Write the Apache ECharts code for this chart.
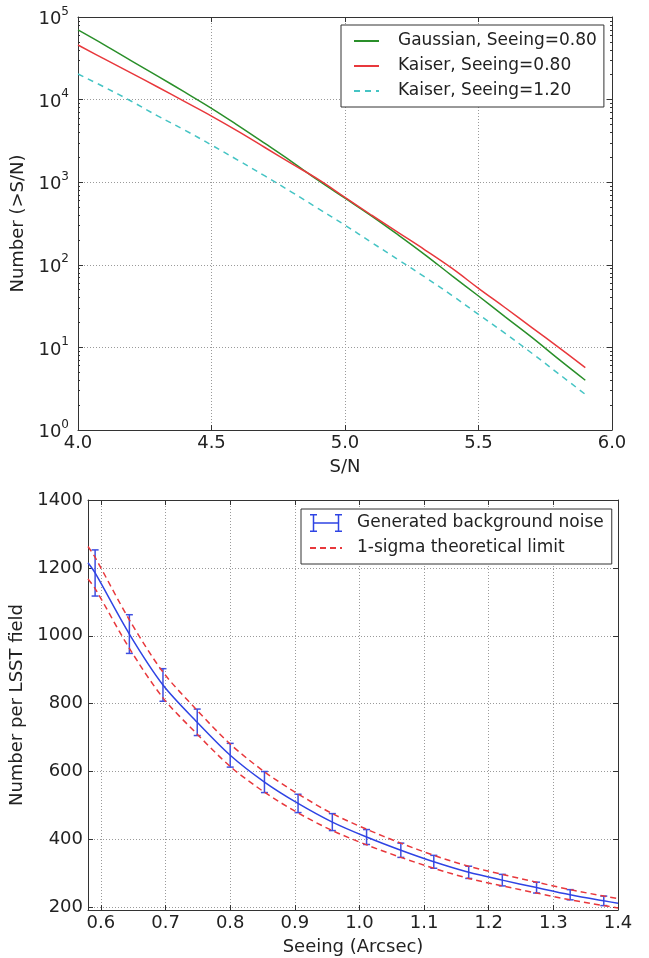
<!DOCTYPE html>
<html>
<head>
<meta charset="utf-8">
<script src="https://cdn.jsdelivr.net/npm/echarts@6/dist/echarts.min.js"></script>
<style>
  html, body { margin: 0; padding: 0; background: #fff; }
  #chart { width: 649px; height: 958px; }
</style>
</head>
<body>
<div id="chart"></div>
<script>
  // top panel: cumulative counts vs S/N
  var snr = [4.0, 4.1, 4.2, 4.3, 4.4, 4.5, 4.6, 4.7, 4.8, 4.9, 5.0, 5.1, 5.2, 5.3, 5.4, 5.5, 5.6, 5.7, 5.8, 5.9];
  var gauss080 = [69700, 45700, 29500, 19100, 12300, 7850, 4850, 2950, 1780, 1050, 640, 389, 229, 132, 74, 41.9, 23.4, 13.2, 7.2, 4.0];
  var kaiser080 = [45800, 30900, 20900, 14100, 9440, 6310, 4120, 2630, 1680, 1080, 655, 398, 245, 151, 91, 51.9, 30.2, 17.4, 10.0, 5.7];
  var kaiser120 = [20400, 14100, 9550, 6310, 4270, 2820, 1840, 1190, 759, 479, 302, 186, 115, 70.8, 42.7, 25.1, 14.8, 8.5, 4.8, 2.7];

  // bottom panel: counts vs seeing
  var seeing = [0.58, 0.591, 0.644, 0.696, 0.749, 0.8, 0.853, 0.905, 0.958, 1.011, 1.064, 1.115, 1.169, 1.221, 1.274, 1.326, 1.378, 1.4];
  var noise = [1215, 1185, 1005, 855, 745, 648, 569, 506, 451, 407, 368, 334, 303, 280, 258, 237, 219, 212];
  var upperLimit = [1263, 1231, 1047, 893, 780, 681, 599, 534, 476, 430, 389, 353, 321, 297, 274, 252, 233, 226];
  var lowerLimit = [1167, 1139, 963, 817, 710, 615, 539, 478, 426, 384, 347, 315, 285, 263, 242, 222, 205, 198];
  var errSeeing = [0.591, 0.644, 0.696, 0.749, 0.8, 0.853, 0.905, 0.958, 1.011, 1.064, 1.115, 1.169, 1.221, 1.274, 1.326, 1.378];
  var errValue = [1185, 1005, 855, 745, 648, 569, 506, 451, 407, 368, 334, 303, 280, 258, 237, 219];
  var errHalf = [68, 57, 48, 39, 35, 31, 27, 25, 22, 21, 19, 18, 17, 16, 15, 14];

  var seeingTicks = [0.6, 0.7, 0.8, 0.9, 1.0, 1.1, 1.2, 1.3, 1.4];
  var countTicks = [200, 400, 600, 800, 1000, 1200, 1400];

  var minorLog = [];
  for (var k = 0; k < 5; k++) {
    for (var m = 2; m < 10; m++) minorLog.push(m * Math.pow(10, k));
  }

  function zip(xs, ys) {
    return xs.map(function(x, i) { return [x, ys[i]]; });
  }

  var FONT = 'DejaVu Sans';
  var INK = '#222';
  var gridLine = { show: true, lineStyle: { color: '#9a9a9a', width: 1, type: [1, 2] } };
  var frame = { show: true, lineStyle: { color: '#333', width: 1 } };
  var tick = { show: true, inside: true, length: 5, lineStyle: { color: '#333' } };
  var label = { fontFamily: FONT, fontSize: 18, color: INK };
  var nameStyle = { fontFamily: FONT, fontSize: 18, color: INK };

  function mirror(extra) {
    return Object.assign({
      axisLine: frame,
      axisTick: tick,
      axisLabel: { show: false },
      splitLine: { show: false }
    }, extra);
  }

  var errorIcon = 'path://M0,0H7V1.5H4.25V16.5H7V18H0V16.5H2.75V1.5H0Z' +
    'M25,0H32V1.5H29.25V16.5H32V18H25V16.5H27.75V1.5H25Z' +
    'M2.75,8.25H29.25V9.75H2.75Z';

  var chart = echarts.init(document.getElementById('chart'));
  chart.setOption({
    animation: false,
    backgroundColor: '#fff',
    textStyle: { fontFamily: FONT },
    grid: [
      { left: 78, top: 17, width: 534, height: 413, outerBoundsMode: 'none' },
      { left: 88, top: 500, width: 530, height: 410, outerBoundsMode: 'none' }
    ],
    legend: [{
      data: [
        { name: 'Gaussian, Seeing=0.80', itemStyle: { opacity: 0 } },
        { name: 'Kaiser, Seeing=0.80', itemStyle: { opacity: 0 } },
        { name: 'Kaiser, Seeing=1.20', itemStyle: { opacity: 0 } }
      ],
      orient: 'vertical',
      left: 341,
      top: 25,
      padding: [6, 7, 6, 12],
      itemWidth: 25,
      itemHeight: 14,
      itemGap: 5,
      selectedMode: false,
      borderColor: '#333',
      borderWidth: 1,
      borderRadius: 0,
      backgroundColor: '#fff',
      textStyle: { fontFamily: FONT, fontSize: 17, color: INK, lineHeight: 20, padding: [0, 0, 0, 14] }
    }, {
      data: [
        { name: 'Generated background noise', icon: errorIcon },
        { name: '1-sigma theoretical limit', itemStyle: { opacity: 0 } }
      ],
      orient: 'vertical',
      left: 301,
      top: 509,
      padding: [4, 8, 6, 8],
      itemWidth: 32,
      itemHeight: 18,
      itemGap: 5,
      selectedMode: false,
      borderColor: '#333',
      borderWidth: 1,
      borderRadius: 0,
      backgroundColor: '#fff',
      textStyle: { fontFamily: FONT, fontSize: 17, color: INK, lineHeight: 20, padding: [0, 0, 0, 10] }
    }],
    xAxis: [{
      gridIndex: 0, type: 'value', min: 4, max: 6, interval: 0.5, position: 'bottom',
      name: 'S/N', nameLocation: 'middle', nameGap: 28, nameTextStyle: nameStyle,
      axisLine: frame, axisTick: tick, splitLine: gridLine,
      axisLabel: Object.assign({ margin: 4, formatter: function(v) { return v.toFixed(1); } }, label)
    }, mirror({
      gridIndex: 0, type: 'value', min: 4, max: 6, interval: 0.5, position: 'top'
    }), {
      gridIndex: 1, type: 'value', min: 0.58, max: 1.4, position: 'bottom',
      name: 'Seeing (Arcsec)', nameLocation: 'middle', nameGap: 28, nameTextStyle: nameStyle,
      axisLine: frame,
      axisTick: Object.assign({ customValues: seeingTicks }, tick),
      splitLine: gridLine,
      axisLabel: Object.assign({ margin: 4, customValues: seeingTicks, formatter: function(v) { return v.toFixed(1); } }, label)
    }, mirror({
      gridIndex: 1, type: 'value', min: 0.58, max: 1.4, position: 'top',
      axisTick: Object.assign({ customValues: seeingTicks }, tick)
    })],
    yAxis: [{
      gridIndex: 0, type: 'log', logBase: 10, min: 1, max: 100000, position: 'left',
      name: 'Number (>S/N)', nameLocation: 'middle', nameGap: 46, nameTextStyle: nameStyle,
      axisLine: frame, axisTick: tick, splitLine: gridLine,
      axisLabel: {
        margin: 9,
        formatter: function(v) { return '{b|10}{s|' + Math.round(Math.log10(v)) + '}'; },
        rich: {
          b: { fontFamily: FONT, fontSize: 18, color: INK, verticalAlign: 'bottom' },
          s: { fontFamily: FONT, fontSize: 12, color: INK, verticalAlign: 'bottom', padding: [0, 0, 11, 0] }
        }
      }
    }, mirror({
      gridIndex: 0, type: 'log', logBase: 10, min: 1, max: 100000, position: 'right'
    }), {
      gridIndex: 0, type: 'log', logBase: 10, min: 1, max: 100000, position: 'left',
      axisLine: { show: false }, axisLabel: { show: false }, splitLine: { show: false },
      axisTick: { show: true, inside: true, length: 2, customValues: minorLog, lineStyle: { color: '#333' } }
    }, {
      gridIndex: 0, type: 'log', logBase: 10, min: 1, max: 100000, position: 'right',
      axisLine: { show: false }, axisLabel: { show: false }, splitLine: { show: false },
      axisTick: { show: true, inside: true, length: 2, customValues: minorLog, lineStyle: { color: '#333' } }
    }, {
      gridIndex: 1, type: 'value', min: 192, max: 1400, position: 'left',
      name: 'Number per LSST field', nameLocation: 'middle', nameGap: 56, nameTextStyle: nameStyle,
      axisLine: frame,
      axisTick: Object.assign({ customValues: countTicks }, tick),
      splitLine: gridLine,
      axisLabel: Object.assign({ margin: 5, customValues: countTicks, formatter: function(v) { return String(v); } }, label)
    }, mirror({
      gridIndex: 1, type: 'value', min: 192, max: 1400, position: 'right',
      axisTick: Object.assign({ customValues: countTicks }, tick)
    })],
    series: [{
      name: 'Gaussian, Seeing=0.80', type: 'line', xAxisIndex: 0, yAxisIndex: 0,
      symbol: 'none', color: '#2a8f2a', smooth: 0.4,
      lineStyle: { width: 1.5 },
      data: zip(snr, gauss080)
    }, {
      name: 'Kaiser, Seeing=0.80', type: 'line', xAxisIndex: 0, yAxisIndex: 0,
      symbol: 'none', color: '#e8383c', smooth: 0.4,
      lineStyle: { width: 1.5 },
      data: zip(snr, kaiser080)
    }, {
      name: 'Kaiser, Seeing=1.20', type: 'line', xAxisIndex: 0, yAxisIndex: 0,
      symbol: 'none', color: '#45c4c4', smooth: 0.4,
      lineStyle: { width: 1.5, type: [6, 5] },
      data: zip(snr, kaiser120)
    }, {
      name: '1-sigma theoretical limit', type: 'line', xAxisIndex: 2, yAxisIndex: 4,
      symbol: 'none', color: '#e8383c', smooth: 0.3,
      lineStyle: { width: 1.5, type: [6, 4] },
      data: zip(seeing, upperLimit)
    }, {
      name: '1-sigma theoretical limit', type: 'line', xAxisIndex: 2, yAxisIndex: 4,
      symbol: 'none', color: '#e8383c', smooth: 0.3,
      lineStyle: { width: 1.5, type: [6, 4] },
      data: zip(seeing, lowerLimit)
    }, {
      name: 'Generated background noise', type: 'line', xAxisIndex: 2, yAxisIndex: 4,
      symbol: 'none', color: '#2f44e4', smooth: 0.3,
      lineStyle: { width: 1.5 },
      data: zip(seeing, noise)
    }, {
      name: 'errorbars', type: 'custom', xAxisIndex: 2, yAxisIndex: 4,
      data: errSeeing.map(function(x, i) { return [x, errValue[i] - errHalf[i], errValue[i] + errHalf[i]]; }),
      renderItem: function(params, api) {
        var lo = api.coord([api.value(0), api.value(1)]);
        var hi = api.coord([api.value(0), api.value(2)]);
        var w = 3.5;
        var st = { stroke: '#3f4fe0', lineWidth: 1.5, fill: null };
        return {
          type: 'group',
          children: [
            { type: 'line', shape: { x1: lo[0], y1: lo[1], x2: hi[0], y2: hi[1] }, style: st },
            { type: 'line', shape: { x1: lo[0] - w, y1: lo[1], x2: lo[0] + w, y2: lo[1] }, style: st },
            { type: 'line', shape: { x1: hi[0] - w, y1: hi[1], x2: hi[0] + w, y2: hi[1] }, style: st }
          ]
        };
      },
      z: 3
    }]
  });
</script>
</body>
</html>
